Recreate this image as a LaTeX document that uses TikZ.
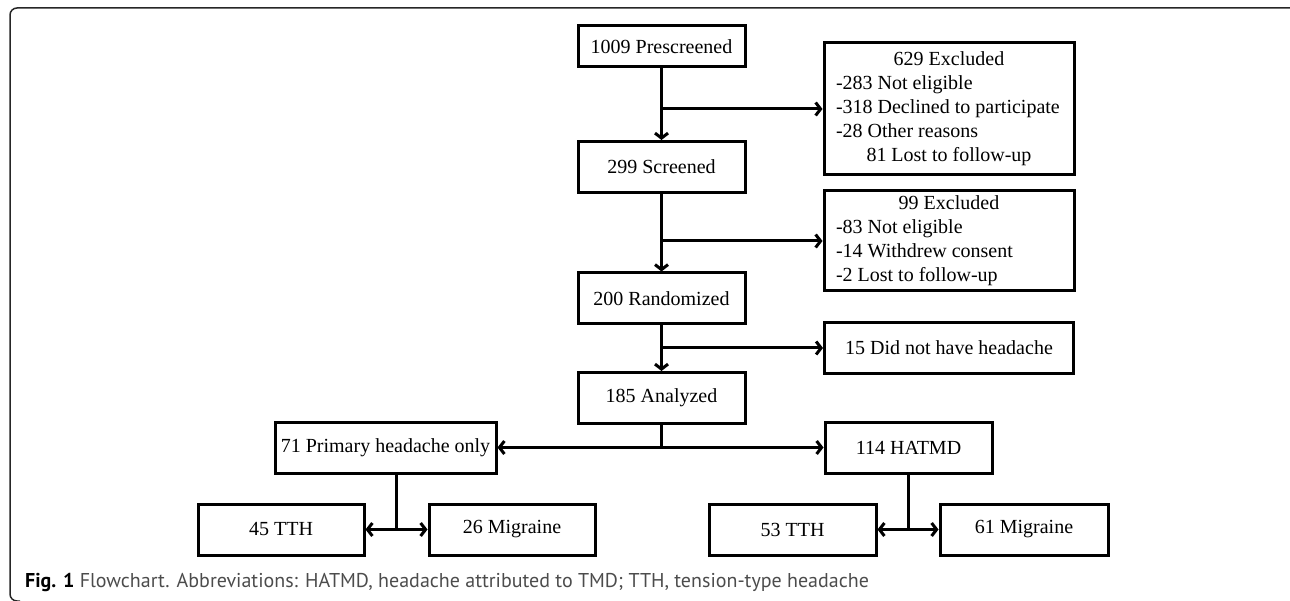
\documentclass[tikz,border=0pt]{standalone}
\usepackage{fontspec}
\setmainfont{Liberation Serif}
\newfontfamily\capfont{PT Sans}
\usepackage{tikz}
\usetikzlibrary{arrows.meta, positioning, calc}
\definecolor{capgray}{rgb}{0.30, 0.30, 0.30}
\definecolor{framegray}{rgb}{0.15, 0.15, 0.15}
\newcommand{\head}[1]{\makebox[226pt][c]{#1}}

\begin{document}
\begin{tikzpicture}[x=1pt, y=-1pt, >={Straight Barb[length=5pt, width=13pt]}]
    \tikzstyle{block} = [rectangle, draw, line width=3pt, inner sep=0pt, minimum width=167pt, minimum height=51pt, font=\fontsize{20}{24}\selectfont]
    \tikzstyle{excl} = [block, inner xsep=12pt, align=left, minimum width=250pt]
    \tikzstyle{line} = [line width=3pt]
    \tikzstyle{arrow} = [line, ->]

    \useasboundingbox (0,0) rectangle (1290,601);
    % frame
    \draw [framegray, line width=1.5pt, rounded corners=7pt] (1290,8) -- (10,8) -- (10,601) -- (20,601);

    % main column
    \node [block, minimum height=41pt] (pre) at (661.5,46.5) {1009 Prescreened};
    \node [block, below of=pre, node distance=120.5pt] (scr) {299 Screened};
    \node [block, below of=scr, node distance=131.5pt] (ran) {200 Randomized};
    \node [block, below of=ran, node distance=99.5pt] (ana) {185 Analyzed};

    % exclusions
    \node [excl, minimum height=132pt] (exc1) at (949,109) {\head{629 Excluded}\\
        -283 Not eligible\\
        -318 Declined to participate\\
        -28 Other reasons\\
        \head{81 Lost to follow-up}};
    \node [excl, minimum height=100pt, below of=exc1, node distance=132pt] (exc2) {\head{99 Excluded}\\
        -83 Not eligible\\
        -14 Withdrew consent\\
        -2 Lost to follow-up};
    \node [block, minimum width=249pt, below of=exc2, node distance=107pt] (nohead) {15 Did not have headache};

    % groups
    \node [block, minimum width=221pt] (prim) at (385.5,447.5) {71 Primary headache only};
    \node [block] (hat) at (908.5,447.5) {114 HATMD};
    \node [block, minimum width=166pt] (tth1) at (281,529.5) {45 TTH};
    \node [block, minimum width=166pt, right of=tth1, node distance=231pt] (mig1) {26 Migraine};
    \node [block] (tth2) at (792.5,529.5) {53 TTH};
    \node [block, minimum width=168pt, right of=tth2, node distance=231.5pt] (mig2) {61 Migraine};

    \coordinate (split) at (ana.south |- prim.east);
    \coordinate (s1) at ($(tth1.east)!0.5!(mig1.west)$);
    \coordinate (s2) at ($(tth2.east)!0.5!(mig2.west)$);

    \draw [arrow] (pre) -- (scr);
    \draw [arrow] (scr) -- (ran);
    \draw [arrow] (ran) -- (ana);
    \draw [arrow] (pre.south |- exc1.west) -- (exc1.west);
    \draw [arrow] (scr.south |- exc2.west) -- (exc2.west);
    \draw [arrow] (ran.south |- nohead.west) -- (nohead.west);
    \draw [line] (ana) -- (split);
    \draw [arrow] (split) -- (prim.east);
    \draw [arrow] (split) -- (hat.west);
    \draw [line] (prim.south -| s1) -- (s1);
    \draw [arrow] (s1) -- (tth1.east);
    \draw [arrow] (s1) -- (mig1.west);
    \draw [line] (hat.south -| s2) -- (s2);
    \draw [arrow] (s2) -- (tth2.east);
    \draw [arrow] (s2) -- (mig2.west);

    % caption
    \node [anchor=west, inner sep=0pt, font=\capfont\fontsize{20}{24}\selectfont, text=capgray] (cap) at (25,582)
        {\textcolor{black}{\textbf{Fig. 1}} Flowchart. Abbreviations: HATMD, headache attributed to TMD; TTH, tension-type headache};
\end{tikzpicture}
\end{document}
